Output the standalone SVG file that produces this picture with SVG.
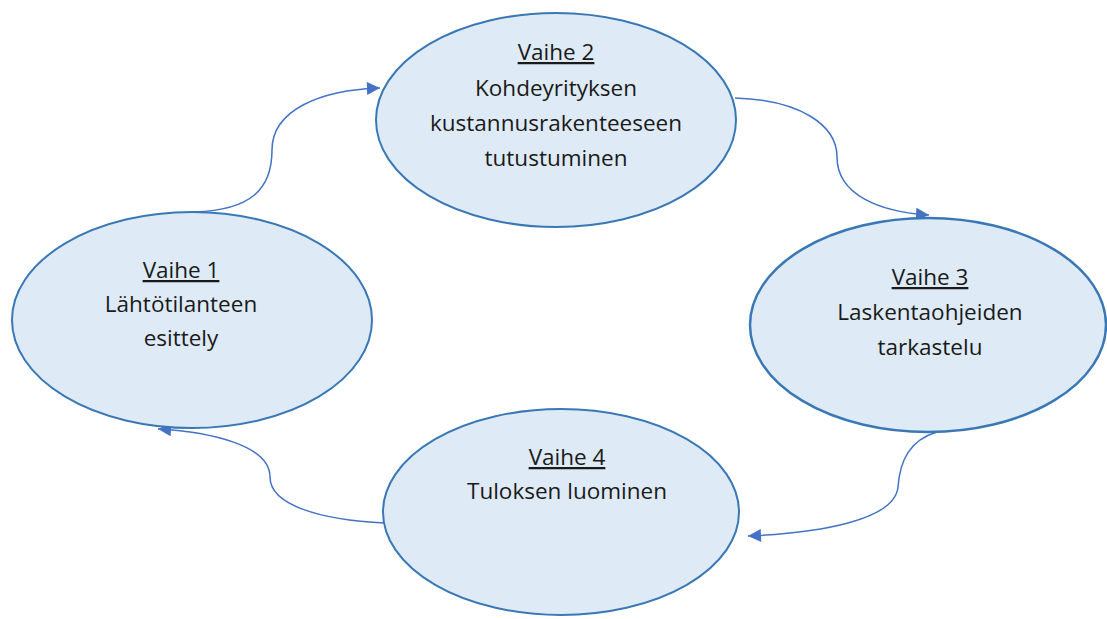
<svg xmlns="http://www.w3.org/2000/svg" width="1107" height="619" viewBox="0 0 1107 619">
<style>
.node ellipse{fill:#DEEBF7;stroke:#3A78B5;stroke-width:2}
.node text{font-family:"Open Sans","Liberation Sans",sans-serif;font-size:22.5px;fill:#1a1a1a;text-anchor:middle}
.node .h{text-decoration:underline}
.conn path{fill:none;stroke:#4472C4;stroke-width:1.5}
</style>
<defs>
<marker id="arr" viewBox="0 0 10 10" refX="10" refY="5" markerWidth="14" markerHeight="13" markerUnits="userSpaceOnUse" orient="auto">
<path d="M0,0 L10,5 L0,10 Z" fill="#4472C4"/>
</marker>
</defs>
<rect width="1107" height="619" fill="#ffffff"/>
<g class="conn">
<path d="M195,212 C 250,210 272,190 272,150 C 272,110 320,90 380,88" marker-end="url(#arr)"/>
<path d="M735,98 C 800,100 837,125 837,157 C 837,195 880,212 929,215" marker-end="url(#arr)"/>
<path d="M937,432 C 910,440 900,460 898,487 C 895,520 820,533 748,536" marker-end="url(#arr)"/>
<path d="M385,523 C 320,520 270,505 270,477 C 270,445 210,432 158,429" marker-end="url(#arr)"/>
</g>
<g id="vaihe1" class="node">
<ellipse cx="192" cy="320" rx="180" ry="108"/>
<text x="181" y="278" class="h">Vaihe 1</text>
<text x="181" y="312">Lähtötilanteen</text>
<text x="181" y="346">esittely</text>
</g>
<g id="vaihe2" class="node">
<ellipse cx="556" cy="120" rx="180" ry="107"/>
<text x="556" y="60" class="h">Vaihe 2</text>
<text x="556" y="96">Kohdeyrityksen</text>
<text x="556" y="131">kustannusrakenteeseen</text>
<text x="556" y="166">tutustuminen</text>
</g>
<g id="vaihe3" class="node">
<ellipse cx="928" cy="325" rx="178" ry="107" style="stroke-width:2.5"/>
<text x="930" y="285" class="h">Vaihe 3</text>
<text x="930" y="320">Laskentaohjeiden</text>
<text x="930" y="355">tarkastelu</text>
</g>
<g id="vaihe4" class="node">
<ellipse cx="561" cy="512" rx="178" ry="103"/>
<text x="567" y="465" class="h">Vaihe 4</text>
<text x="567" y="499">Tuloksen luominen</text>
</g>
</svg>
